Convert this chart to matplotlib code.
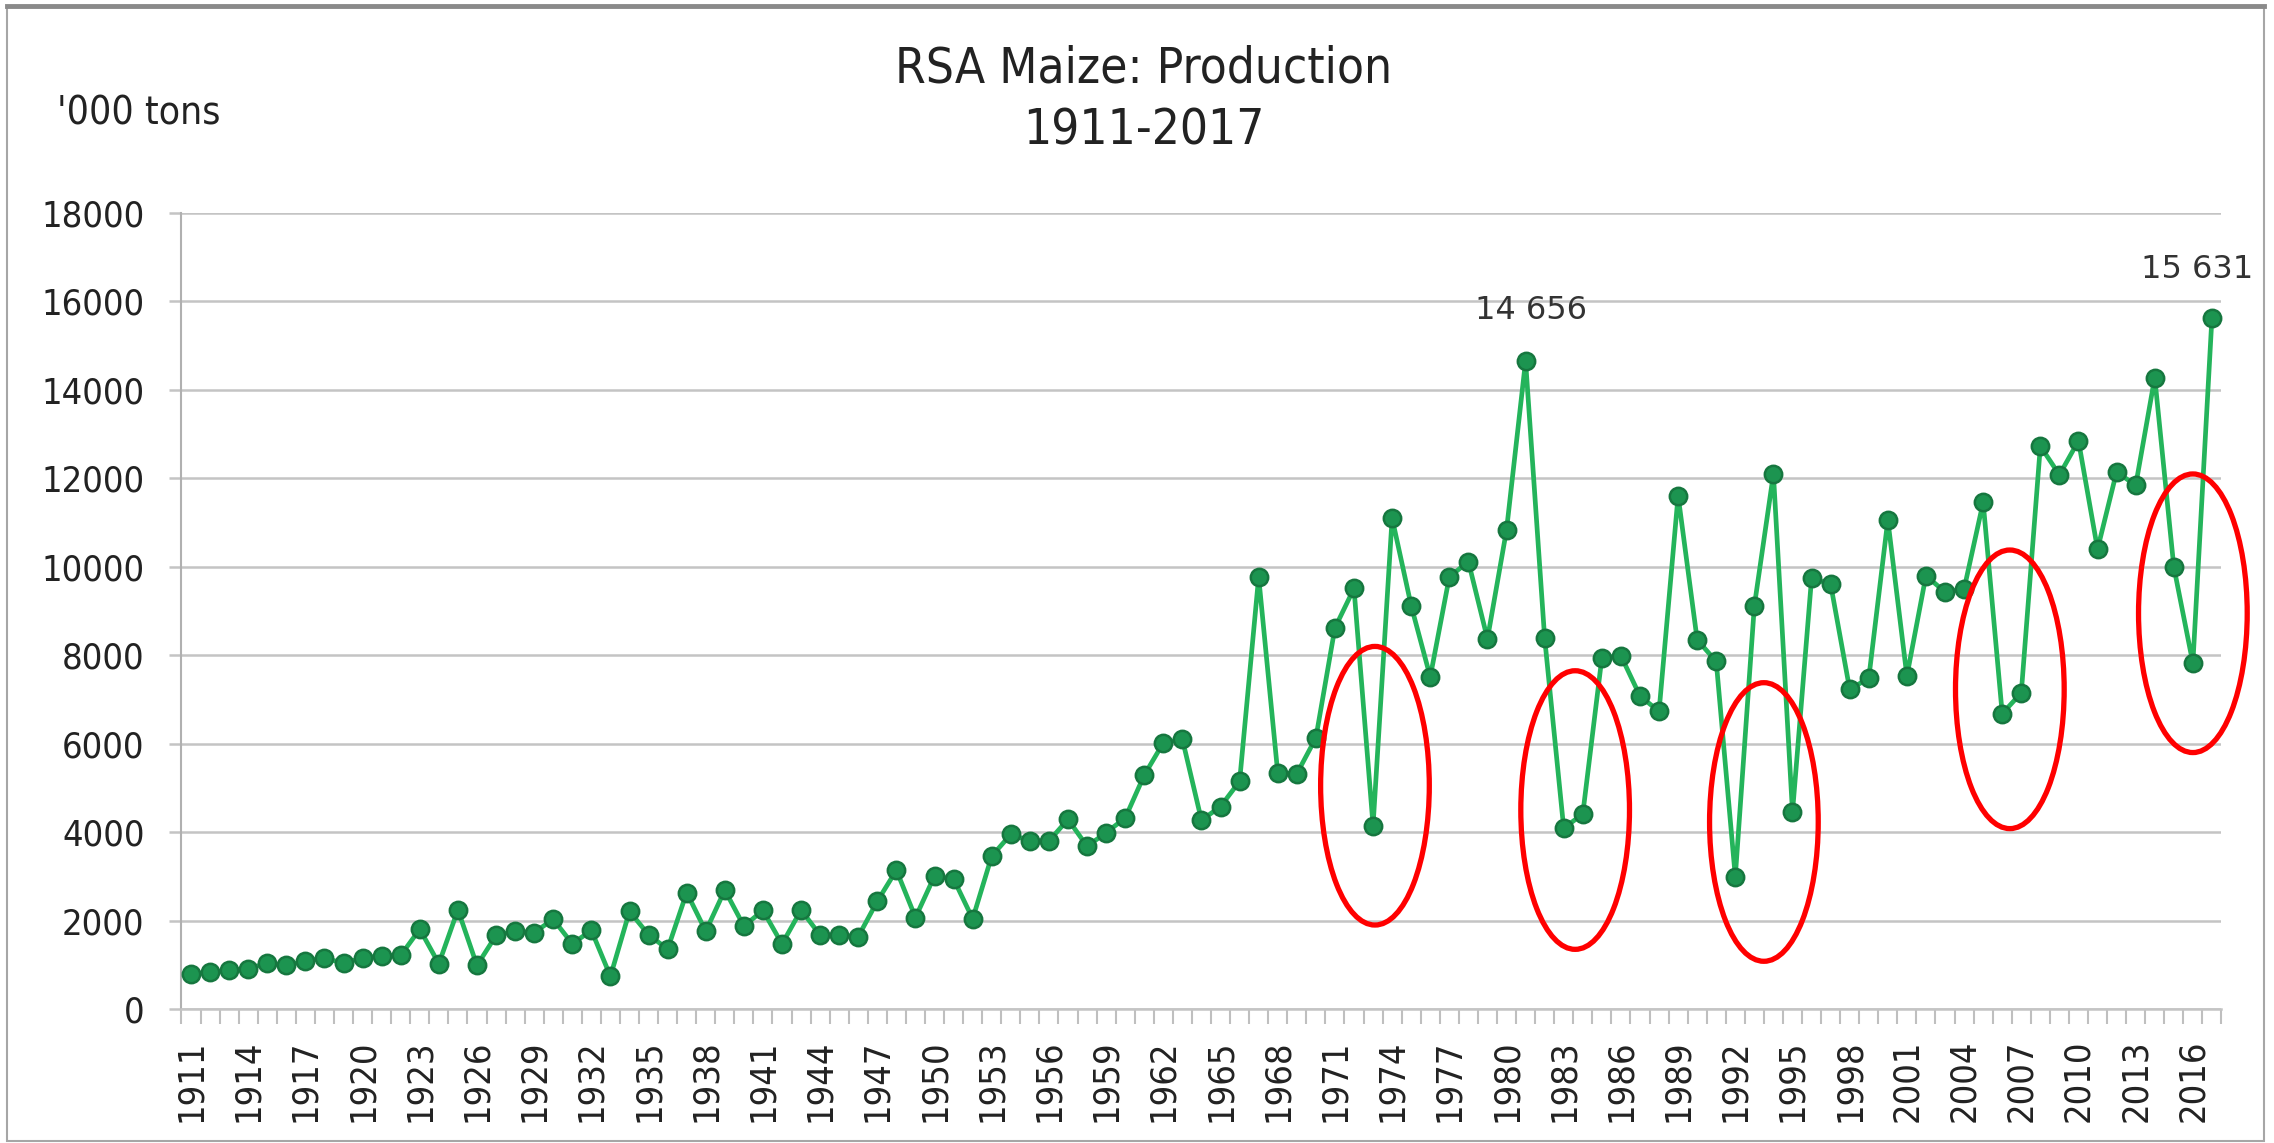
import numpy as np
import matplotlib
matplotlib.use('Agg')
import matplotlib.pyplot as plt
from matplotlib.patches import Ellipse, Rectangle
from matplotlib.lines import Line2D

plt.rcParams['font.family'] = 'DejaVu Sans'
plt.rcParams['font.stretch'] = 'condensed'

# RSA maize production, '000 tons
years = list(range(1911, 2018))
production = [
    800, 830, 875, 905, 1045, 985, 1085, 1160, 1030, 1160,        # 1911-1920
    1200, 1215, 1805, 1025, 2245, 985, 1665, 1760, 1730, 2030,    # 1921-1930
    1475, 1780, 740, 2210, 1680, 1355, 2635, 1760, 2690, 1875,    # 1931-1940
    2230, 1470, 2240, 1670, 1670, 1640, 2440, 3140, 2070, 3010,   # 1941-1950
    2940, 2040, 3460, 3950, 3800, 3800, 4290, 3680, 3990, 4320,   # 1951-1960
    5290, 6020, 6100, 4270, 4580, 5150, 9770, 5340, 5320, 6130,   # 1961-1970
    8620, 9510, 4150, 11100, 9120, 7510, 9770, 10120, 8370, 10830,  # 1971-1980
    14656, 8390, 4090, 4410, 7940, 7990, 7080, 6730, 11610, 8350,   # 1981-1990
    7860, 2990, 9120, 12100, 4450, 9740, 9610, 7230, 7480, 11060,   # 1991-2000
    7530, 9800, 9430, 9500, 11460, 6680, 7150, 12730, 12080, 12850,  # 2001-2010
    10400, 12150, 11840, 14280, 10000, 7820, 15631]                # 2011-2017

label_years = list(range(1911, 2018, 3))
y_ticks = list(range(0, 18001, 2000))

# labelled peaks
peak_years = [1981, 2017]
peak_labels = ["14 656", "15 631"]

# red rings around the drought years
ring_x = [1973.1, 1983.6, 1993.5, 2006.4, 2016.0]
ring_y = [5050, 4500, 4230, 7230, 8950]

fig = plt.figure(figsize=(22.74, 11.43), dpi=100)
ax = fig.add_axes([0.0798, 0.1172, 0.8971, 0.6964])

ax.plot(years, production, color='#24b45b', lw=3.4, marker='o', ms=12.5,
        mfc='#1c9450', mec='#16773f', mew=1.8, zorder=3, clip_on=False)

for yr, txt in zip(peak_years, peak_labels):
    val = production[years.index(yr)]
    if yr == 2017:
        off = (-11, 35)
    else:
        off = (4, 36)
    ax.annotate(txt, (yr, val), xytext=off, textcoords='offset points',
                ha='center', va='center', fontsize=23, color='#333333',
                family='DejaVu Sans', fontstretch='normal', annotation_clip=False)

for cx, cy in zip(ring_x, ring_y):
    e = Ellipse((cx, cy), 5.7, 6300, fill=False, ec='#ff0000', lw=3.8,
                zorder=4, clip_on=False)
    ax.add_patch(e)

ax.set_xlim(1910.5, 2017.5)
ax.set_ylim(0, 18000)
ax.set_yticks(y_ticks)
ax.set_yticklabels([str(v) for v in y_ticks], fontsize=26, color='#222222')
ax.set_xticks(label_years)
ax.set_xticklabels([str(y) for y in label_years], rotation=90, fontsize=26, color='#222222')
ax.set_xticks(np.arange(1910.5, 2018, 1), minor=True)
ax.tick_params(axis='x', which='major', length=0, pad=22)
ax.tick_params(axis='x', which='minor', length=10.8, width=1.5, color='#bfbfbf')
ax.tick_params(axis='y', length=8.6, width=1.8, color='#c4c4c4', pad=18)

ax.grid(axis='y', color='#c4c4c4', lw=1.8)
ax.set_axisbelow(True)
for s in ['top', 'right']:
    ax.spines[s].set_visible(False)
ax.spines['left'].set_color('#b0b0b0')
ax.spines['left'].set_linewidth(1.5)
ax.spines['bottom'].set_color('#c4c4c4')
ax.spines['bottom'].set_linewidth(1.8)

fig.text(0.503, 0.9405, "RSA Maize: Production", ha='center', va='center', fontsize=35.5, color='#222222')
fig.text(0.503, 0.886, "1911-2017", ha='center', va='center', fontsize=35.5, color='#222222')
fig.text(0.025, 0.901, "'000 tons", ha='left', va='center', fontsize=28, color='#222222')

# outer frame
fig.add_artist(Rectangle((7 / 2274, 2 / 1143), 2257 / 2274, 1134 / 1143, transform=fig.transFigure,
                         fill=False, ec='#a6a6a6', lw=1.5))
fig.add_artist(Line2D([7 / 2274, 2264 / 2274], [1 - 6 / 1143, 1 - 6 / 1143], transform=fig.transFigure,
                      color='#8a8a8a', lw=3.5))

fig.savefig('out.png', dpi=100)
